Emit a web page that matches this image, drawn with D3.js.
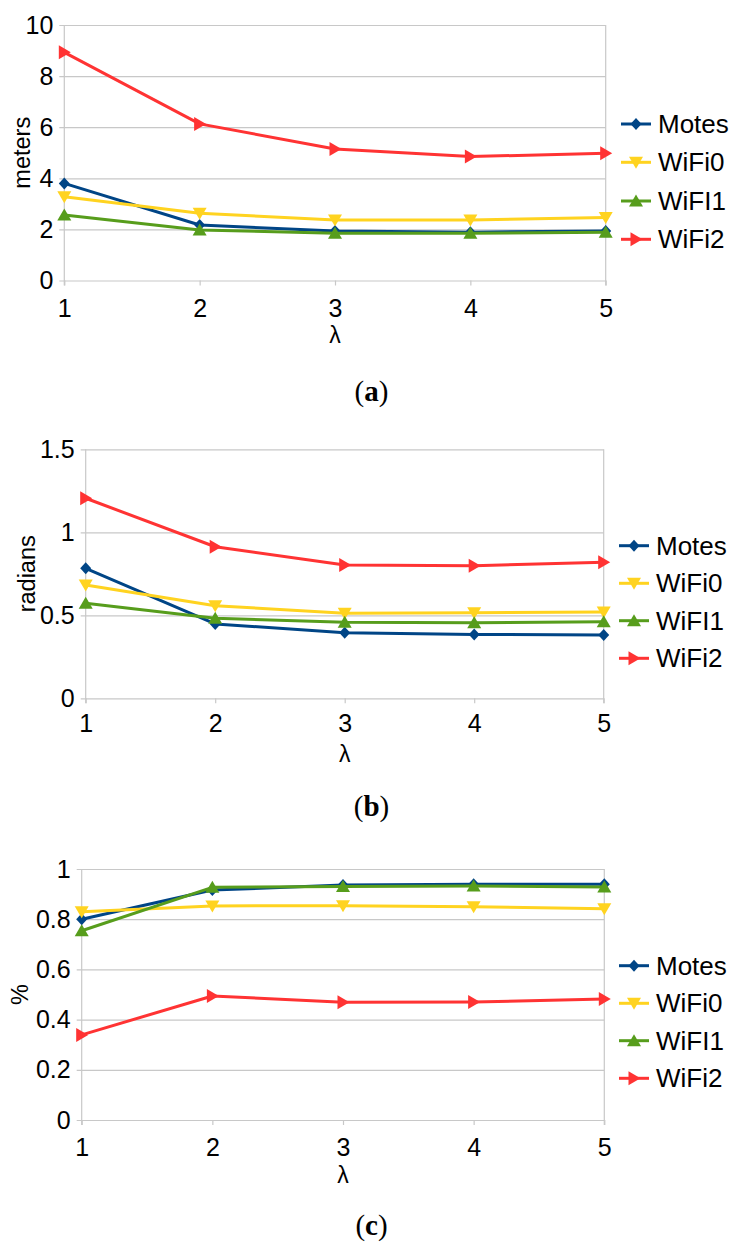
<!DOCTYPE html>
<html>
<head>
<meta charset="utf-8">
<script src="https://cdn.jsdelivr.net/npm/d3@7"></script>
<style>
  html, body { margin: 0; padding: 0; background: #fff; }
  svg { display: block; }
  text { font-family: "Liberation Sans", Arial, sans-serif; fill: #000; }
</style>
</head>
<body>
<svg id="chart" width="734" height="1242"></svg>
<script>
// λ values shared by all three panels
const lambdas = [1, 2, 3, 4, 5];
const seriesNames = ["Motes", "WiFi0", "WiFI1", "WiFi2"];

// (a) position error, meters
const metersTicks = [0, 2, 4, 6, 8, 10];
const metersMotes = [3.80, 2.17, 1.94, 1.89, 1.94];
const metersWiFi0 = [3.28, 2.63, 2.37, 2.37, 2.47];
const metersWiFI1 = [2.56, 1.98, 1.85, 1.85, 1.89];
const metersWiFi2 = [8.93, 6.13, 5.15, 4.85, 4.98];

// (b) orientation error, radians
const radiansTicks = [0, 0.5, 1, 1.5];
const radiansMotes = [0.783, 0.448, 0.395, 0.385, 0.381];
const radiansWiFi0 = [0.682, 0.558, 0.512, 0.516, 0.520];
const radiansWiFI1 = [0.572, 0.482, 0.458, 0.455, 0.461];
const radiansWiFi2 = [1.205, 0.913, 0.803, 0.799, 0.819];

// (c) success ratio, %
const percentTicks = [0, 0.2, 0.4, 0.6, 0.8, 1];
const percentMotes = [0.800, 0.916, 0.936, 0.939, 0.939];
const percentWiFi0 = [0.830, 0.853, 0.854, 0.850, 0.842];
const percentWiFI1 = [0.754, 0.927, 0.930, 0.932, 0.928];
const percentWiFi2 = [0.339, 0.494, 0.469, 0.470, 0.482];

const colors = {
  "Motes": "#004586",
  "WiFi0": "#ffd320",
  "WiFI1": "#579d1c",
  "WiFi2": "#ff3333"
};

// marker shapes (centred on 0,0)
const markers = {
  "Motes": "M0,-6L5.5,0L0,6L-5.5,0Z",
  "WiFi0": "M-7,-5.5L7,-5.5L0,6.5Z",
  "WiFI1": "M-7,5.5L7,5.5L0,-6.5Z",
  "WiFi2": "M-5.5,-7L-5.5,7L6.5,0Z"
};

const svg = d3.select("#chart");

const panels = [
  {
    title: "meters", caption: "a", ticks: metersTicks, domain: [0, 10],
    series: [metersMotes, metersWiFi0, metersWiFI1, metersWiFi2],
    left: 64.3, right: 605.7, top: 25, bottom: 280.5,
    titleX: 21.7, tickY: 308, lambdaY: 335, captionY: 391,
    legendY: [124, 162.3, 201, 239.3], legendX: 621
  },
  {
    title: "radians", caption: "b", ticks: radiansTicks, domain: [0, 1.5],
    series: [radiansMotes, radiansWiFi0, radiansWiFI1, radiansWiFi2],
    left: 85.7, right: 603.7, top: 449.3, bottom: 698.3,
    titleX: 26.5, tickY: 723.3, lambdaY: 754, captionY: 806,
    legendY: [545.7, 583.3, 620.7, 658.3], legendX: 619
  },
  {
    title: "%", caption: "c", ticks: percentTicks, domain: [0, 1],
    series: [percentMotes, percentWiFi0, percentWiFI1, percentWiFi2],
    left: 81.7, right: 604.3, top: 869, bottom: 1120,
    titleX: 20, tickY: 1146.7, lambdaY: 1175, captionY: 1225,
    legendY: [965.7, 1003.3, 1040.7, 1078.3], legendX: 619
  }
];

panels.forEach(p => {
  const x = d3.scaleLinear().domain([1, 5]).range([p.left, p.right]);
  const y = d3.scaleLinear().domain(p.domain).range([p.bottom, p.top]);
  const g = svg.append("g");

  // horizontal grid lines with outward ticks
  const yAxis = d3.axisLeft(y).tickValues(p.ticks)
    .tickSize(-(p.right - p.left)).tickSizeOuter(0).tickPadding(11)
    .tickFormat(d => String(d));
  const ya = g.append("g").attr("transform", `translate(${p.left},0)`).call(yAxis);
  ya.select(".domain").remove();
  ya.selectAll(".tick line").attr("stroke", "#c8c8c8").attr("stroke-width", 1.2)
    .attr("x1", -5);
  ya.selectAll(".tick text").attr("font-size", 25).attr("x", -11)
    .attr("font-family", "Liberation Sans, Arial, sans-serif");

  // vertical boundaries and x ticks
  g.append("line").attr("x1", p.left).attr("x2", p.left)
    .attr("y1", p.top).attr("y2", p.bottom + 5)
    .attr("stroke", "#c8c8c8").attr("stroke-width", 1.2);
  g.append("line").attr("x1", p.right).attr("x2", p.right)
    .attr("y1", p.top).attr("y2", p.bottom + 5)
    .attr("stroke", "#c8c8c8").attr("stroke-width", 1.2);

  const xAxis = d3.axisBottom(x).tickValues(lambdas).tickSize(5).tickSizeOuter(0)
    .tickFormat(d => String(d));
  const xa = g.append("g").attr("transform", `translate(0,${p.bottom})`).call(xAxis);
  xa.select(".domain").remove();
  xa.selectAll(".tick line").attr("stroke", "#c8c8c8").attr("stroke-width", 1.2);
  xa.selectAll(".tick text").attr("font-size", 25).attr("dy", null)
    .attr("font-family", "Liberation Sans, Arial, sans-serif")
    .attr("dominant-baseline", "central")
    .attr("y", p.tickY - p.bottom);

  // axis titles
  g.append("text").attr("x", (p.left + p.right) / 2).attr("y", p.lambdaY)
    .attr("text-anchor", "middle").attr("dominant-baseline", "central")
    .attr("font-size", 23).text("λ");
  g.append("text")
    .attr("transform", `translate(${p.titleX},${(p.top + p.bottom) / 2}) rotate(-90)`)
    .attr("text-anchor", "middle").attr("dominant-baseline", "central")
    .attr("font-size", 23.5).text(p.title);

  // series lines and markers
  const line = d3.line().x((d, i) => x(lambdas[i])).y(d => y(d));
  p.series.forEach((vals, si) => {
    const name = seriesNames[si];
    g.append("path").datum(vals).attr("d", line)
      .attr("fill", "none").attr("stroke", colors[name])
      .attr("stroke-width", 3).attr("stroke-linejoin", "round");
    g.selectAll(null).data(vals).join("path")
      .attr("d", markers[name])
      .attr("transform", (d, i) => `translate(${x(lambdas[i])},${y(d)})`)
      .attr("fill", colors[name]);
  });

  // legend
  seriesNames.forEach((name, si) => {
    const ly = p.legendY[si];
    g.append("line").attr("x1", p.legendX).attr("x2", p.legendX + 30)
      .attr("y1", ly).attr("y2", ly)
      .attr("stroke", colors[name]).attr("stroke-width", 3);
    g.append("path").attr("d", markers[name])
      .attr("transform", `translate(${p.legendX + 15},${ly})`)
      .attr("fill", colors[name]);
    g.append("text").attr("x", p.legendX + 37).attr("y", ly)
      .attr("dominant-baseline", "central").attr("font-size", 26).text(name);
  });

  // panel caption
  const cap = g.append("text").attr("x", 371.5).attr("y", p.captionY)
    .attr("text-anchor", "middle").attr("dominant-baseline", "central")
    .style("font-family", "Liberation Serif, Times New Roman, serif")
    .attr("font-size", 29);
  cap.append("tspan").text("(");
  cap.append("tspan").attr("font-weight", "bold").text(p.caption);
  cap.append("tspan").text(")");
});
</script>
</body>
</html>
